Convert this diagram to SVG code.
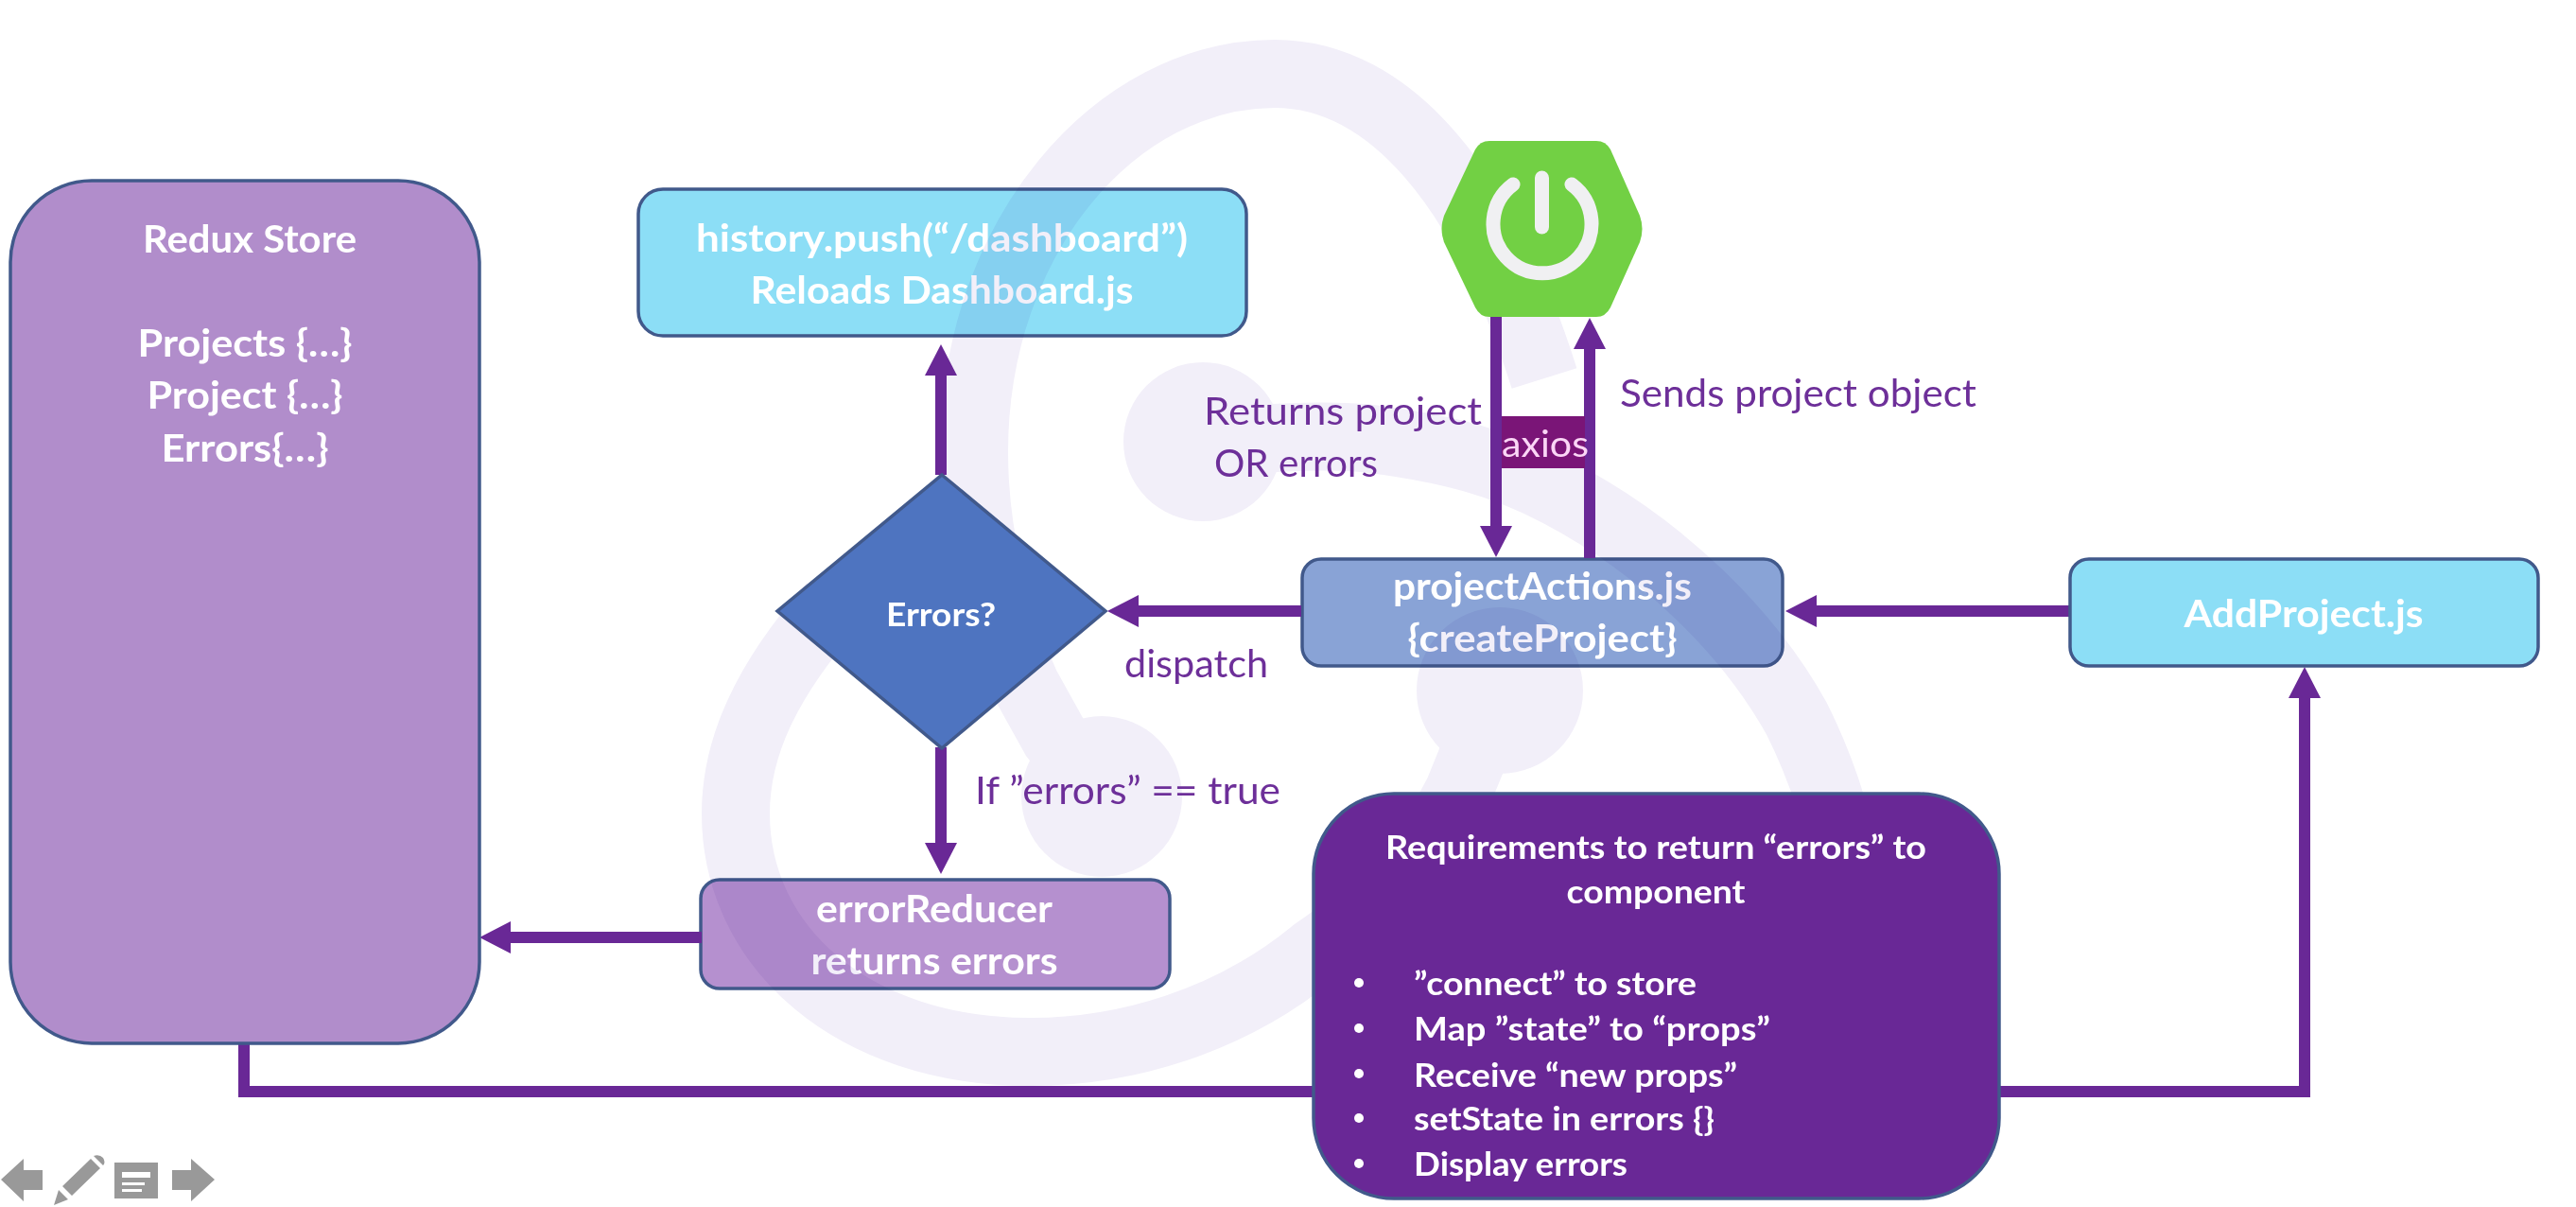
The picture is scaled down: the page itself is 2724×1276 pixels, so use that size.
<svg xmlns="http://www.w3.org/2000/svg" width="2724" height="1276" viewBox="0 0 2724 1276">
<style>
text{font-family:"Lato","Carlito","Liberation Sans",sans-serif}
.w{fill:#fff;font-weight:700;font-size:41px}
.s{fill:#fff;font-weight:700;font-size:35px}
.l{fill:#6d2f99;font-size:41px}
.box{stroke:#41598b;stroke-width:3.5}
.c{fill:none;stroke:#692896;stroke-width:12}
.bg{fill:none;stroke:#f2eff9;stroke-width:72}
.ic{fill:#999}
</style>
<defs>
<marker id="a" markerUnits="userSpaceOnUse" markerWidth="36" markerHeight="36" refX="1" refY="18" orient="auto"><path d="M0,1 L33,18 L0,35 Z" fill="#692896"/></marker>
</defs>
<rect width="2724" height="1276" fill="#fff"/>
<g id="history">
<rect class="box" x="675" y="200" width="643" height="155" rx="26" fill="#8cdef6"/>
<text class="w" x="996" y="266" text-anchor="middle" textLength="520" lengthAdjust="spacingAndGlyphs">history.push(“/dashboard”)</text>
<text class="w" x="996" y="321" text-anchor="middle" textLength="405" lengthAdjust="spacingAndGlyphs">Reloads Dashboard.js</text>
</g>
<g id="project-actions">
<rect class="box" x="1377" y="591" width="508" height="113" rx="20" fill="#89a3d6"/>
<text class="w" x="1631" y="634" text-anchor="middle" textLength="316" lengthAdjust="spacingAndGlyphs">projectActions.js</text>
<text class="w" x="1631" y="689" text-anchor="middle" textLength="285" lengthAdjust="spacingAndGlyphs">{createProject}</text>
</g>
<g id="error-reducer">
<rect class="box" x="741" y="930" width="496" height="115" rx="20" fill="#b590cf"/>
<text class="w" x="988" y="975" text-anchor="middle" textLength="250" lengthAdjust="spacingAndGlyphs">errorReducer</text>
<text class="w" x="988" y="1030" text-anchor="middle" textLength="261" lengthAdjust="spacingAndGlyphs">returns errors</text>
</g>
<g id="redux-logo" style="mix-blend-mode:multiply">
<path class="bg" d="M1272,467 C1330,464 1400,458 1450,464 C1530,474 1590,490 1650,522 C1760,580 1850,670 1900,760 C1925,810 1945,870 1955,930"/>
<path class="bg" d="M1165,842 L1115,779 L1085,725 C1050,650 1030,560 1030,478 C1030,250 1180,78 1348,78 C1470,78 1570,200 1633,400"/>
<path class="bg" d="M1586,730 L1542,838 C1500,920 1450,965 1389,1007 C1300,1080 1190,1112 1090,1112 C900,1112 778,1000 778,860 C778,790 810,720 880,640"/>
<circle cx="1272" cy="467" r="84" fill="#f2eff9"/>
<circle cx="1165" cy="842" r="85" fill="#f2eff9"/>
<circle cx="1586" cy="730" r="88" fill="#f2eff9"/>
</g>
<g id="connectors">
<path class="c" d="M995,502 V396" marker-end="url(#a)"/>
<path class="c" d="M995,790 V892" marker-end="url(#a)"/>
<path class="c" d="M1376,646 H1203" marker-end="url(#a)"/>
<path class="c" d="M2188,646 H1920" marker-end="url(#a)"/>
<path class="c" d="M742,991 H539" marker-end="url(#a)"/>
<path class="c" d="M1582,330 V557" marker-end="url(#a)"/>
<path class="c" d="M1681,590 V368" marker-end="url(#a)"/>
<path class="c" d="M258,1100 V1154 H1400"/>
<path class="c" d="M2110,1154 H2437 V737" marker-end="url(#a)"/>
</g>
<g id="redux-store">
<rect class="box" x="11" y="191" width="496" height="912" rx="86" fill="#b18dcb"/>
<text class="w" x="264" y="267" text-anchor="middle" textLength="226" lengthAdjust="spacingAndGlyphs">Redux Store</text>
<text class="w" x="259" y="377" text-anchor="middle" textLength="227" lengthAdjust="spacingAndGlyphs">Projects {…}</text>
<text class="w" x="259" y="432" text-anchor="middle" textLength="207" lengthAdjust="spacingAndGlyphs">Project {…}</text>
<text class="w" x="259" y="488" text-anchor="middle" textLength="177" lengthAdjust="spacingAndGlyphs">Errors{…}</text>
</g>
<g id="errors-decision">
<path class="box" d="M996,502 L1169,646 L996,791 L822,646 Z" fill="#4e74c0"/>
<text class="s" x="995" y="662" text-anchor="middle" textLength="116" lengthAdjust="spacingAndGlyphs">Errors?</text>
</g>
<g id="spring-boot">
<path d="M1575,149 H1688 Q1698,149 1703,158 L1734,228 Q1739,242 1734,256 L1703,325 Q1698,335 1688,335 H1575 Q1565,335 1560,325 L1527,256 Q1522,242 1527,228 L1560,158 Q1565,149 1575,149 Z" fill="#72d044"/>
<path d="M1600,195 A52,52 0 1 0 1662,195" fill="none" stroke="#f0f0f2" stroke-width="15" stroke-linecap="round"/>
<path d="M1630.500,188 V240" fill="none" stroke="#f0f0f2" stroke-width="15" stroke-linecap="round"/>
</g>
<g id="axios">
<rect x="1588" y="440" width="88" height="55" fill="#7a1577"/>
<text x="1634" y="483" text-anchor="middle" fill="#fbd6f6" font-size="38" textLength="92" lengthAdjust="spacingAndGlyphs">axios</text>
</g>
<g id="add-project">
<rect class="box" x="2189" y="591" width="495" height="113" rx="20" fill="#8cdef6"/>
<text class="w" x="2436" y="663" text-anchor="middle" textLength="253" lengthAdjust="spacingAndGlyphs">AddProject.js</text>
</g>
<g id="requirements">
<rect class="box" x="1389" y="839" width="725" height="428" rx="85" fill="#692896" stroke="#41598b"/>
<text class="s" x="1751" y="908" text-anchor="middle" textLength="572" lengthAdjust="spacingAndGlyphs">Requirements to return “errors” to</text>
<text class="s" x="1751" y="955" text-anchor="middle" textLength="189" lengthAdjust="spacingAndGlyphs">component</text>
<g fill="#fff"><circle cx="1437" cy="1039" r="5"/><circle cx="1437" cy="1087" r="5"/><circle cx="1437" cy="1135" r="5"/><circle cx="1437" cy="1182" r="5"/><circle cx="1437" cy="1230" r="5"/></g>
<text class="s" x="1495" y="1052" textLength="299" lengthAdjust="spacingAndGlyphs">”connect” to store</text>
<text class="s" x="1495" y="1100" textLength="377" lengthAdjust="spacingAndGlyphs">Map ”state” to “props”</text>
<text class="s" x="1495" y="1149" textLength="342" lengthAdjust="spacingAndGlyphs">Receive “new props”</text>
<text class="s" x="1495" y="1195" textLength="318" lengthAdjust="spacingAndGlyphs">setState in errors {}</text>
<text class="s" x="1495" y="1243" textLength="226" lengthAdjust="spacingAndGlyphs">Display errors</text>
</g>
<g id="labels">
<text class="l" x="1273" y="449" textLength="294" lengthAdjust="spacingAndGlyphs">Returns  project</text>
<text class="l" x="1284" y="504" textLength="173" lengthAdjust="spacingAndGlyphs">OR errors</text>
<text class="l" x="1713" y="430" textLength="377" lengthAdjust="spacingAndGlyphs">Sends project object</text>
<text class="l" x="1189" y="716" textLength="152" lengthAdjust="spacingAndGlyphs">dispatch</text>
<text class="l" x="1031" y="850" textLength="323" lengthAdjust="spacingAndGlyphs">If ”errors” == true</text>
</g>
<g id="player-controls">
<path class="ic" d="M1,1247 L25,1225 V1237 H45 V1258 H25 V1270 Z"/>
<path class="ic" d="M57,1274 L62,1258 L72,1268 Z M66,1254 L96,1225 L106,1235 L76,1264 Z M99,1222 Q105,1220 109,1224 Q112,1229 109,1232 Z"/>
<path class="ic" fill-rule="evenodd" d="M121,1229 H167 V1267 H121 Z M129,1239 V1245 H159 V1239 Z M129,1250 V1253 H153 V1250 Z M129,1257 V1260 H150 V1257 Z"/>
<path class="ic" d="M182,1237 H202 V1225 L227,1247 L202,1270 V1258 H182 Z"/>
</g>
</svg>
